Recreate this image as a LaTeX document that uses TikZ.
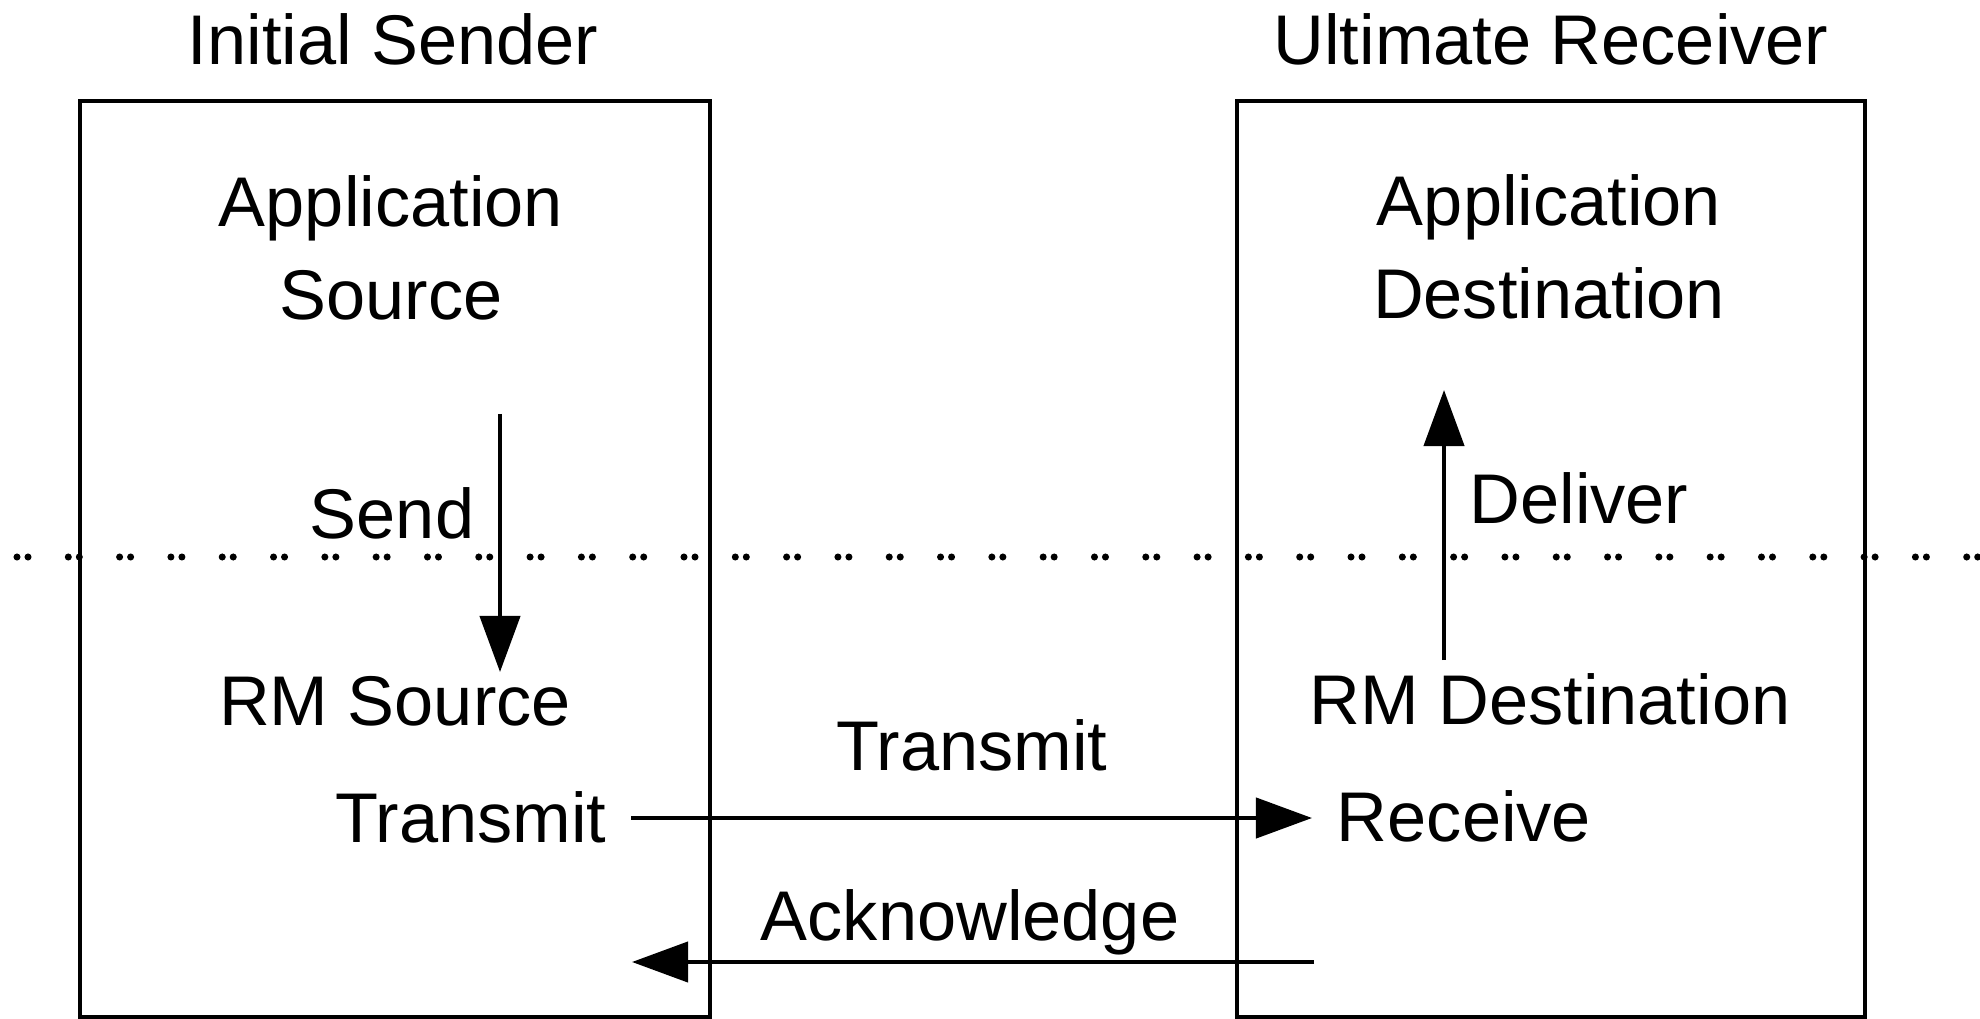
\documentclass[tikz,border=0pt]{standalone}
\usepackage{fontspec}
\setmainfont{Liberation Sans}
\usetikzlibrary{arrows.meta}

\begin{document}
\begin{tikzpicture}[x=0.01cm, y=-0.01cm,
  lbl/.style={anchor=base, inner sep=0pt, font=\fontsize{20}{26.5}\selectfont, align=center},
  frame/.style={line width=1pt},
  msg/.style={line width=1.2pt, -{Triangle[length=0.56cm, width=0.4cm]}},
  layer/.style={line width=2pt, line cap=round, dash pattern=on 0pt off 3.13pt on 0pt off 11.46pt}]
\useasboundingbox (0,0) rectangle (1980,1019);

% Draw the two endpoints
\draw[frame] (80,101) rectangle (710,1017);
\draw[frame] (1237,101) rectangle (1865,1017);
\node[lbl] (sender) at (393,65) {Initial Sender};
\node[lbl] (receiver) at (1551,65) {Ultimate Receiver};

% Application layer
\node[lbl] (appsrc) at (391,320) {Application\\Source};
\node[lbl] (appdst) at (1549,319) {Application\\Destination};

% Layer boundary
\draw[layer] (17,557) -- (1980,557);

% RM layer
\node[lbl] (rmsrc) at (395,725) {RM Source};
\node[lbl] (rmdst) at (1550,724) {RM Destination};
\node[lbl] (txsrc) at (471,842) {Transmit};
\node[lbl] (rxdst) at (1464,841) {Receive};

% Send and deliver
\coordinate (send start) at (500,414);
\coordinate (send end) at (500,672);
\draw[msg] (send start) -- (send end);
\node[lbl] (send) at (392,538) {Send};
\coordinate (deliver start) at (1444,660);
\coordinate (deliver end) at (1444,390);
\draw[msg] (deliver start) -- (deliver end);
\node[lbl] (deliver) at (1579,523) {Deliver};

% Messages between the endpoints
\coordinate (tx start) at (631,818);
\coordinate (tx end) at (1312,818);
\draw[msg] (tx start) -- (tx end);
\node[lbl] (tx) at (972,770) {Transmit};
\coordinate (ack start) at (1314,962);
\coordinate (ack end) at (632,962);
\draw[msg] (ack start) -- (ack end);
\node[lbl] (ack) at (970,940) {Acknowledge};

\end{tikzpicture}
\end{document}
